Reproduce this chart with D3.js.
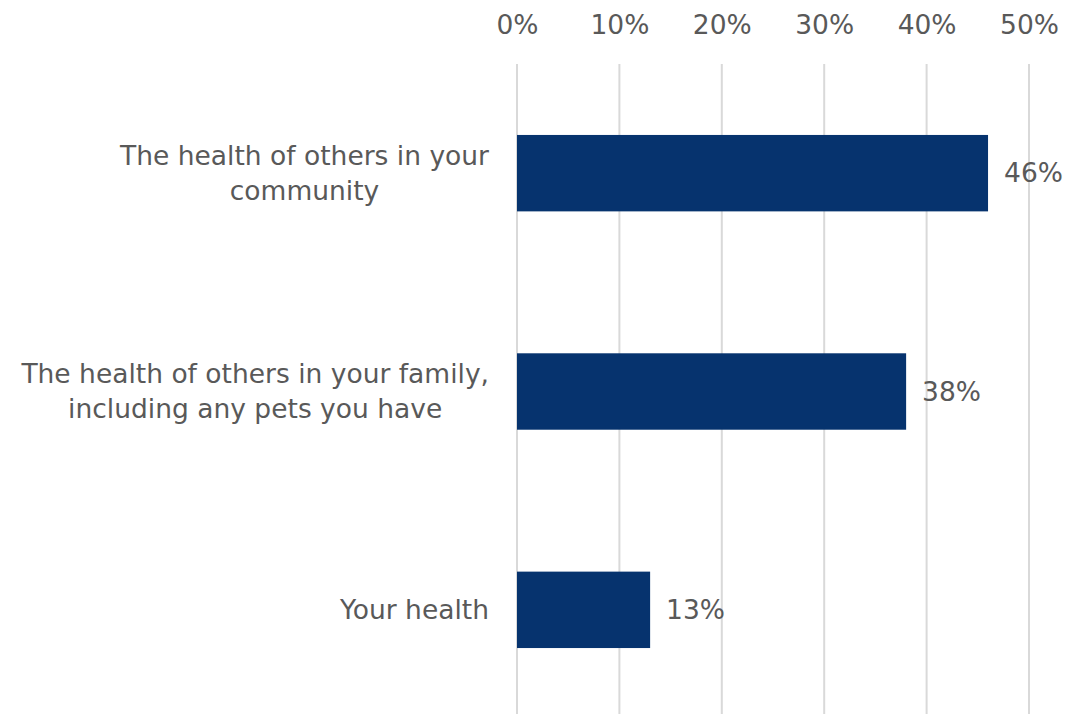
<!DOCTYPE html>
<html>
<head>
<meta charset="utf-8">
<script src="https://cdn.jsdelivr.net/npm/d3@7"></script>
<style>
  html, body { margin: 0; padding: 0; background: #ffffff; }
  svg { display: block; }
  text { font-family: "DejaVu Sans", Verdana, sans-serif; fill: #595959; }
</style>
</head>
<body>
<svg id="chart" width="1089" height="714"></svg>
<script>
// Survey categories (top to bottom), each split into its display lines
const categories = [
  ["The health of others in your", "community"],
  ["The health of others in your family,", "including any pets you have"],
  ["Your health"]
];
// Share of respondents, in percent
const values = [46, 38, 13];
// Top axis ticks
const tickValues = [0, 10, 20, 30, 40, 50];

const W = 1089, H = 714;
const FONT = "26.5px";
const svg = d3.select("#chart");

const x = d3.scaleLinear().domain([0, 50]).range([517, 1029]);
const y = d3.scaleBand()
  .domain(d3.range(categories.length))
  .range([64, 719])
  .paddingInner(0.65)
  .paddingOuter(0.325);

// Vertical gridlines
svg.append("g")
  .selectAll("line")
  .data(tickValues)
  .join("line")
  .attr("x1", d => x(d)).attr("x2", d => x(d))
  .attr("y1", 64).attr("y2", H)
  .attr("stroke", "#d9d9d9")
  .attr("stroke-width", 2);

// Top axis labels
const axis = d3.axisTop(x)
  .tickValues(tickValues)
  .tickFormat(d => d + "%")
  .tickSize(0)
  .tickPadding(0);
const gAxis = svg.append("g").attr("transform", "translate(0,34)").call(axis);
gAxis.select(".domain").remove();
gAxis.selectAll("text")
  .attr("dy", 0)
  .style("font-size", FONT)
  .style("font-family", "'DejaVu Sans', Verdana, sans-serif")
  .attr("fill", "#595959");

// Bars
svg.append("g")
  .selectAll("rect")
  .data(values)
  .join("rect")
  .attr("x", x(0))
  .attr("y", (d, i) => y(i))
  .attr("width", d => x(d) - x(0))
  .attr("height", y.bandwidth())
  .attr("fill", "#06336e");

// Value labels
svg.append("g")
  .selectAll("text")
  .data(values)
  .join("text")
  .attr("x", d => x(d) + 16)
  .attr("y", (d, i) => y(i) + y.bandwidth() / 2)
  .attr("dy", "0.35em")
  .style("font-size", FONT)
  .text(d => d + "%");

// Category labels: centred block, right edge aligned
const labelRight = 489;
const lineH = 35;
categories.forEach((lines, i) => {
  const cy = y(i) + y.bandwidth() / 2;
  const g = svg.append("g");
  const texts = g.selectAll("text")
    .data(lines)
    .join("text")
    .attr("y", (d, j) => cy + (j - (lines.length - 1) / 2) * lineH)
    .attr("dy", "0.35em")
    .attr("text-anchor", "middle")
    .style("font-size", FONT)
    .text(d => d);
  let maxW = 0;
  texts.each(function () { maxW = Math.max(maxW, this.getComputedTextLength()); });
  texts.attr("x", labelRight - maxW / 2);
});
</script>
</body>
</html>
